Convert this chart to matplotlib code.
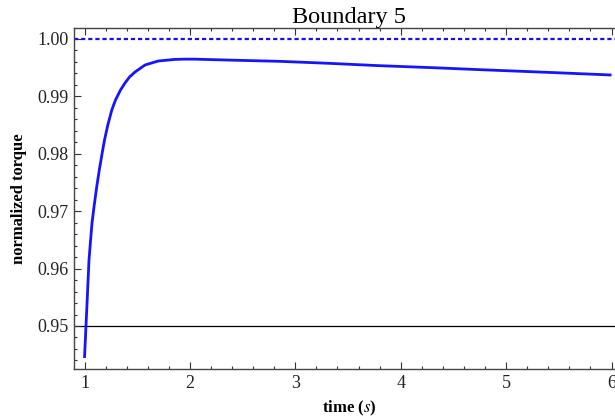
import matplotlib
matplotlib.use("Agg")
import matplotlib.pyplot as plt
from matplotlib.ticker import MultipleLocator, FormatStrFormatter

plt.rcParams["font.family"] = ["Liberation Serif", "DejaVu Serif"]
plt.rcParams["mathtext.fontset"] = "stix"

# torque response of boundary 5 over time
time = [1.000, 1.0142, 1.0285, 1.0427, 1.0579, 1.0712, 1.0901, 1.1157, 1.1404, 1.1727,
        1.1898, 1.2211, 1.2590, 1.2941, 1.3416, 1.3843, 1.4269, 1.4791, 1.5740, 1.6973,
        1.8586, 1.950, 2.050, 2.222, 2.500, 2.855, 3.300, 3.804, 4.300, 4.753, 5.400, 6.000]
torque = [0.94443, 0.95000, 0.95574, 0.96149, 0.96497, 0.96793, 0.97071, 0.97419, 0.97715, 0.98063,
          0.98237, 0.98498, 0.98759, 0.98933, 0.99107, 0.99229, 0.99333, 0.99420, 0.99542, 0.99611,
          0.99640, 0.99644, 0.99644, 0.99635, 0.99622, 0.99606, 0.99573, 0.99530, 0.99496, 0.99461,
          0.99414, 0.99368]

reference_level = 1.00
threshold_level = 0.95

fig = plt.figure(figsize=(6.15, 4.19), dpi=100)
ax = fig.add_axes([74 / 615, 1 - 369 / 419, 550 / 615, 341 / 419])

ax.axhline(threshold_level, color="black", lw=0.9, zorder=1)
ax.axhline(reference_level, color="#1010ff", lw=1.6, dashes=(1.9, 1.3), zorder=2)
ax.plot(time, torque, color="#1414ff", lw=2.0, zorder=3, solid_capstyle="butt",
        solid_joinstyle="round")

ax.set_xlim(1 - 10.5 / 105.4, 6 + 12.5 / 105.4)
ax.set_ylim(0.95 - 43 / 5746, 1.0 + 10.7 / 5746)

ax.xaxis.set_major_locator(MultipleLocator(1))
ax.xaxis.set_minor_locator(MultipleLocator(0.2))
ax.yaxis.set_major_locator(MultipleLocator(0.01))
ax.yaxis.set_minor_locator(MultipleLocator(0.002))
ax.yaxis.set_major_formatter(FormatStrFormatter("%.2f"))

ax.tick_params(which="both", direction="in", top=True, right=False,
               color="#333333", width=0.8)
ax.tick_params(which="major", length=5, labelsize=13, pad=4, labelcolor="#222222")
ax.tick_params(which="minor", length=2.5)
for spine in ax.spines.values():
    spine.set_color("#444444")
    spine.set_linewidth(1.0)

ax.set_title("Boundary 5", fontsize=17.5, pad=3)
ax.set_xlabel("time ($s$)", fontsize=12, fontweight="bold", labelpad=5)
ax.set_ylabel("normalized torque", fontsize=12, fontweight="bold", labelpad=7)

fig.savefig("out.png", dpi=100)
